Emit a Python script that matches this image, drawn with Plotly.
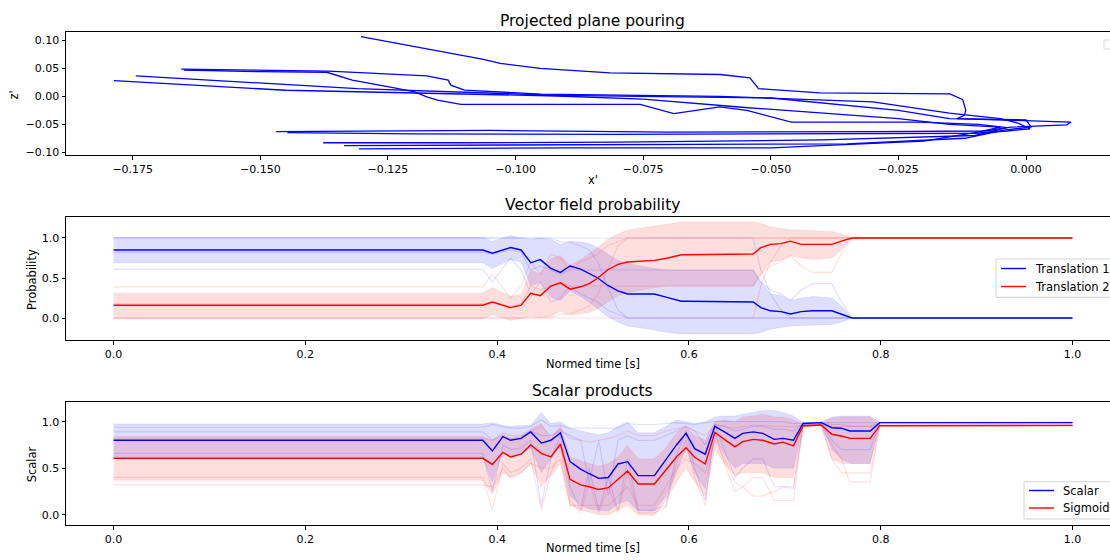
import plotly.graph_objects as go

W, H = 1110, 560
FONT = "DejaVu Sans"

# ---------------- Top chart: projected plane pouring ----------------
traj1_x = [-0.1303, -0.1063, -0.1030, -0.0952, -0.0815, -0.0599, -0.0541, -0.0524, -0.0404, -0.0149, -0.0124, -0.0118, -0.0121, -0.0135, 0.0088, 0.0080, -0.0030, -0.0080, -0.0300, -0.0700, -0.1050, -0.1300, -0.1469]
traj1_z = [0.1067, 0.066, 0.0588, 0.050, 0.042, 0.039, 0.033, 0.0138, 0.006, 0.0045, -0.006, -0.025, -0.034, -0.040, -0.046, -0.051, -0.055, -0.062, -0.063, -0.064, -0.061, -0.062, -0.063]
traj2_x = [-0.1655, -0.1366, -0.1174, -0.1132, -0.1127, -0.1100, -0.0950, -0.0600, -0.0300, -0.0150, -0.0050, -0.0016, 0.0008, -0.0037, -0.0100, -0.0400, -0.0800, -0.1200, -0.1447]
traj2_z = [0.0486, 0.045, 0.0365, 0.029, 0.020, 0.011, 0.004, 0.000, -0.010, -0.030, -0.040, -0.048, -0.058, -0.062, -0.066, -0.067, -0.068, -0.067, -0.065]
traj3_x = [-0.1650, -0.1500, -0.1370, -0.1320, -0.1240, -0.1198, -0.1174, -0.1153, -0.1107, -0.0756, -0.0690, -0.0600, -0.0547, -0.0460, -0.0208, -0.0093, -0.0037, -0.0100, -0.0400, -0.0800, -0.1100, -0.1377]
traj3_z = [0.047, 0.044, 0.043, 0.029, 0.0156, 0.0078, -0.001, -0.007, -0.0144, -0.0144, -0.031, -0.019, -0.025, -0.046, -0.046, -0.050, -0.056, -0.070, -0.078, -0.082, -0.083, -0.083]
traj4_x = [-0.1744, -0.1310, -0.0919, -0.0500, -0.0250, -0.0150, 0.0000, 0.0010, -0.0040, -0.0120, -0.0350, -0.0700, -0.1000, -0.1336]
traj4_z = [0.0365, 0.0138, 0.0018, -0.003, -0.025, -0.040, -0.042, -0.055, -0.060, -0.075, -0.085, -0.086, -0.087, -0.088]
traj5_x = [-0.1787, -0.1450, -0.0919, -0.0750, -0.0550, -0.0400, -0.0250, -0.0150, -0.0050, -0.0100, -0.0200, -0.0500, -0.0900, -0.1307]
traj5_z = [0.028, 0.0108, 0.0006, -0.005, -0.020, -0.030, -0.040, -0.050, -0.055, -0.065, -0.080, -0.092, -0.092, -0.094]

top_xticks = [-0.175, -0.150, -0.125, -0.100, -0.075, -0.050, -0.025, 0.0]
top_xticktext = ["\u22120.175", "\u22120.150", "\u22120.125", "\u22120.100", "\u22120.075", "\u22120.050", "\u22120.025", "0.000"]
top_yticks = [-0.10, -0.05, 0.0, 0.05, 0.10]
top_yticktext = ["\u22120.10", "\u22120.05", "0.00", "0.05", "0.10"]

# ---------------- Middle chart: vector field probability ----------------
t_mid = [0.0, 0.385, 0.395, 0.414, 0.425, 0.435, 0.445, 0.456, 0.466, 0.476, 0.487, 0.496, 0.505, 0.515, 0.526, 0.536, 0.564, 0.578, 0.592, 0.599, 0.667, 0.675, 0.685, 0.696, 0.706, 0.717, 0.729, 0.749, 0.759, 0.770, 1.0]
trans1_mean = [0.85, 0.85, 0.81, 0.88, 0.85, 0.69, 0.73, 0.62, 0.57, 0.65, 0.61, 0.56, 0.50, 0.41, 0.34, 0.30, 0.30, 0.255, 0.21, 0.21, 0.20, 0.13, 0.09, 0.08, 0.05, 0.08, 0.09, 0.09, 0.05, 0.00, 0.00]
trans2_mean = [0.16, 0.16, 0.20, 0.13, 0.16, 0.31, 0.28, 0.40, 0.44, 0.36, 0.39, 0.43, 0.50, 0.60, 0.67, 0.70, 0.72, 0.75, 0.79, 0.79, 0.80, 0.88, 0.92, 0.93, 0.96, 0.92, 0.92, 0.92, 0.96, 1.00, 1.00]
trans1_hi = [1.01, 1.01, 0.96, 1.03, 1.00, 0.98, 1.00, 0.98, 0.92, 0.96, 0.95, 0.93, 0.88, 0.80, 0.72, 0.68, 0.62, 0.60, 0.60, 0.60, 0.60, 0.45, 0.30, 0.28, 0.22, 0.25, 0.27, 0.25, 0.15, 0.0, 0.0]
trans1_lo = [0.69, 0.69, 0.62, 0.73, 0.70, 0.40, 0.45, 0.26, 0.22, 0.34, 0.27, 0.20, 0.12, 0.02, -0.05, -0.10, -0.15, -0.18, -0.20, -0.20, -0.20, -0.18, -0.14, -0.12, -0.10, -0.10, -0.09, -0.08, -0.05, 0.0, 0.0]
trans2_hi = [0.31, 0.31, 0.38, 0.27, 0.30, 0.60, 0.55, 0.74, 0.78, 0.66, 0.73, 0.80, 0.88, 0.98, 1.05, 1.10, 1.15, 1.18, 1.20, 1.20, 1.20, 1.18, 1.14, 1.12, 1.10, 1.10, 1.09, 1.08, 1.05, 1.0, 1.0]
trans2_lo = [-0.01, -0.01, 0.04, -0.03, 0.0, 0.02, 0.0, 0.02, 0.08, 0.04, 0.05, 0.07, 0.12, 0.20, 0.28, 0.32, 0.38, 0.40, 0.40, 0.40, 0.40, 0.55, 0.70, 0.72, 0.78, 0.75, 0.73, 0.75, 0.85, 1.0, 1.0]
trans1_run1 = [1.0, 1.0, 1.0, 1.0, 1.0, 1.0, 1.0, 1.0, 0.95, 0.95, 0.90, 0.85, 0.70, 0.40, 0.10, 0.0, 0.0, 0.0, 0.0, 0.0, 0.0, 0.0, 0.0, 0.0, 0.0, 0.0, 0.0, 0.0, 0.0, 0.0, 0.0]
trans1_run2 = [1.0, 1.0, 1.0, 1.0, 1.0, 1.0, 1.0, 1.0, 1.0, 1.0, 1.0, 1.0, 1.0, 1.0, 1.0, 1.0, 1.0, 1.0, 1.0, 1.0, 1.0, 0.60, 0.30, 0.10, 0.0, 0.0, 0.0, 0.0, 0.0, 0.0, 0.0]
trans1_run3 = [0.61, 0.61, 0.45, 0.75, 0.60, 0.30, 0.45, 0.20, 0.25, 0.40, 0.30, 0.25, 0.20, 0.10, 0.05, 0.0, 0.0, 0.0, 0.0, 0.0, 0.0, 0.0, 0.0, 0.0, 0.0, 0.0, 0.0, 0.0, 0.0, 0.0, 0.0]
trans1_run4 = [0.82, 0.82, 0.80, 0.85, 0.82, 0.60, 0.65, 0.60, 0.55, 0.60, 0.60, 0.60, 0.60, 0.60, 0.60, 0.60, 0.60, 0.60, 0.60, 0.60, 0.60, 0.45, 0.35, 0.30, 0.22, 0.35, 0.43, 0.43, 0.20, 0.0, 0.0]
trans2_run1 = [0.0, 0.0, 0.0, 0.0, 0.0, 0.0, 0.0, 0.0, 0.05, 0.05, 0.10, 0.15, 0.30, 0.60, 0.90, 1.0, 1.0, 1.0, 1.0, 1.0, 1.0, 1.0, 1.0, 1.0, 1.0, 1.0, 1.0, 1.0, 1.0, 1.0, 1.0]
trans2_run2 = [0.0, 0.0, 0.0, 0.0, 0.0, 0.0, 0.0, 0.0, 0.0, 0.0, 0.0, 0.0, 0.0, 0.0, 0.0, 0.0, 0.0, 0.0, 0.0, 0.0, 0.0, 0.40, 0.70, 0.90, 1.0, 1.0, 1.0, 1.0, 1.0, 1.0, 1.0]
trans2_run3 = [0.39, 0.39, 0.55, 0.25, 0.40, 0.70, 0.55, 0.80, 0.75, 0.60, 0.70, 0.75, 0.80, 0.90, 0.95, 1.0, 1.0, 1.0, 1.0, 1.0, 1.0, 1.0, 1.0, 1.0, 1.0, 1.0, 1.0, 1.0, 1.0, 1.0, 1.0]
trans2_run4 = [0.18, 0.18, 0.20, 0.15, 0.18, 0.40, 0.35, 0.40, 0.45, 0.40, 0.40, 0.40, 0.40, 0.40, 0.40, 0.40, 0.40, 0.40, 0.40, 0.40, 0.40, 0.55, 0.65, 0.70, 0.78, 0.65, 0.57, 0.57, 0.80, 1.0, 1.0]

# ---------------- Bottom chart: scalar products ----------------
t_bot = [0.0, 0.385, 0.395, 0.406, 0.414, 0.425, 0.435, 0.446, 0.456, 0.466, 0.476, 0.487, 0.496, 0.506, 0.516, 0.526, 0.536, 0.547, 0.564, 0.576, 0.587, 0.597, 0.606, 0.617, 0.627, 0.637, 0.648, 0.656, 0.667, 0.677, 0.689, 0.698, 0.709, 0.719, 0.738, 0.749, 0.759, 0.768, 0.789, 0.799, 1.0]
scalar_mean = [0.80, 0.80, 0.685, 0.84, 0.80, 0.82, 0.89, 0.77, 0.80, 0.88, 0.57, 0.49, 0.44, 0.39, 0.40, 0.545, 0.57, 0.42, 0.42, 0.59, 0.75, 0.875, 0.71, 0.65, 0.95, 0.89, 0.82, 0.875, 0.89, 0.875, 0.81, 0.82, 0.80, 0.98, 0.99, 0.935, 0.93, 0.90, 0.90, 0.99, 0.99]
sigmoid_mean = [0.606, 0.606, 0.54, 0.67, 0.62, 0.65, 0.75, 0.66, 0.62, 0.76, 0.38, 0.32, 0.30, 0.27, 0.29, 0.38, 0.47, 0.33, 0.33, 0.48, 0.62, 0.72, 0.617, 0.545, 0.886, 0.81, 0.73, 0.785, 0.81, 0.80, 0.76, 0.78, 0.74, 0.957, 0.965, 0.865, 0.846, 0.82, 0.82, 0.957, 0.96]
scalar_hi = [0.975, 0.975, 0.99, 0.96, 0.95, 0.96, 0.96, 1.10, 0.98, 1.0, 0.93, 0.90, 0.88, 0.86, 0.88, 0.95, 1.0, 0.88, 0.88, 0.95, 1.02, 1.0, 0.98, 1.0, 1.05, 1.06, 1.06, 1.08, 1.10, 1.12, 1.12, 1.10, 1.06, 0.99, 1.0, 1.05, 1.06, 1.06, 1.06, 0.995, 0.995]
scalar_lo = [0.62, 0.62, 0.35, 0.68, 0.62, 0.65, 0.72, 0.45, 0.60, 0.74, 0.20, 0.10, 0.06, 0.05, 0.04, 0.12, 0.15, 0.04, 0.04, 0.20, 0.45, 0.72, 0.45, 0.28, 0.82, 0.65, 0.50, 0.55, 0.55, 0.55, 0.50, 0.50, 0.50, 0.96, 0.97, 0.70, 0.60, 0.55, 0.55, 0.985, 0.985]
sigmoid_hi = [0.84, 0.84, 0.80, 0.86, 0.82, 0.84, 0.92, 0.98, 0.82, 0.95, 0.62, 0.58, 0.55, 0.52, 0.55, 0.62, 0.75, 0.60, 0.60, 0.72, 0.88, 0.95, 0.85, 0.80, 1.0, 1.02, 1.0, 1.05, 1.06, 1.08, 1.05, 1.05, 1.02, 0.97, 0.975, 1.04, 1.05, 1.05, 1.05, 0.965, 0.965]
sigmoid_lo = [0.37, 0.37, 0.22, 0.45, 0.40, 0.45, 0.55, 0.30, 0.42, 0.55, 0.10, 0.05, 0.03, 0.00, 0.00, 0.05, 0.10, 0.00, -0.01, 0.15, 0.35, 0.50, 0.35, 0.20, 0.70, 0.55, 0.42, 0.45, 0.45, 0.45, 0.40, 0.40, 0.40, 0.94, 0.955, 0.60, 0.55, 0.55, 0.55, 0.95, 0.95]
scalar_run1 = [0.94, 0.94, 0.97, 0.95, 0.93, 0.93, 0.95, 1.02, 0.95, 0.96, 0.93, 0.93, 0.93, 0.93, 0.93, 0.93, 0.98, 0.97, 0.97, 0.98, 0.99, 0.98, 0.97, 0.99, 1.00, 1.00, 1.00, 1.00, 1.00, 1.00, 1.00, 1.00, 0.98, 0.99, 0.99, 0.99, 0.99, 0.99, 0.99, 0.995, 0.995]
scalar_run2 = [0.66, 0.66, 0.25, 0.75, 0.70, 0.72, 0.80, 0.10, 0.60, 0.85, 0.30, 0.05, 0.50, 0.05, 0.40, 0.05, 0.60, 0.05, 0.05, 0.10, 0.65, 0.90, 0.50, 0.15, 0.97, 0.70, 0.40, 0.50, 0.60, 0.60, 0.30, 0.30, 0.30, 0.97, 0.98, 0.80, 0.70, 0.70, 0.70, 0.99, 0.99]
scalar_run3 = [0.89, 0.89, 0.80, 0.88, 0.85, 0.85, 0.90, 0.85, 0.85, 0.90, 0.85, 0.80, 0.35, 0.80, 0.20, 0.80, 0.85, 0.80, 0.80, 0.85, 0.90, 0.95, 0.90, 0.75, 0.97, 0.95, 0.90, 0.92, 0.95, 0.95, 0.92, 0.92, 0.90, 0.98, 0.99, 0.97, 0.97, 0.95, 0.95, 0.99, 0.99]
sigmoid_run1 = [0.40, 0.40, 0.05, 0.55, 0.45, 0.50, 0.60, 0.05, 0.45, 0.70, 0.15, 0.02, 0.35, 0.02, 0.30, 0.02, 0.45, 0.02, 0.02, 0.08, 0.55, 0.80, 0.40, 0.10, 0.90, 0.55, 0.25, 0.30, 0.40, 0.40, 0.15, 0.15, 0.15, 0.95, 0.96, 0.60, 0.45, 0.45, 0.45, 0.96, 0.96]
sigmoid_run2 = [0.32, 0.32, 0.30, 0.50, 0.40, 0.45, 0.55, 0.50, 0.50, 0.60, 0.10, 0.10, 0.10, 0.10, 0.10, 0.20, 0.30, 0.10, 0.10, 0.30, 0.50, 0.60, 0.55, 0.45, 0.80, 0.60, 0.35, 0.30, 0.20, 0.20, 0.25, 0.30, 0.28, 0.95, 0.96, 0.75, 0.60, 0.35, 0.35, 0.96, 0.96]
sigmoid_run3 = [0.82, 0.82, 0.80, 0.85, 0.82, 0.83, 0.90, 0.95, 0.85, 0.92, 0.82, 0.80, 0.78, 0.80, 0.82, 0.85, 0.90, 0.85, 0.85, 0.90, 0.93, 0.95, 0.90, 0.85, 0.96, 0.95, 0.93, 0.95, 0.96, 0.96, 0.95, 0.95, 0.95, 0.96, 0.965, 0.95, 0.95, 0.95, 0.95, 0.96, 0.96]

time_ticks = [0.0, 0.2, 0.4, 0.6, 0.8, 1.0]
time_ticktext = ["0.0", "0.2", "0.4", "0.6", "0.8", "1.0"]
prob_ticks = [0.0, 0.5, 1.0]
prob_ticktext = ["0.0", "0.5", "1.0"]

mid_legend_labels = ["Translation 1", "Translation 2"]
bot_legend_labels = ["Scalar", "Sigmoid"]

BLUE = "#0000ff"
RED = "#ff0000"
BLUE_FILL = "rgba(0,0,255,0.13)"
RED_FILL = "rgba(255,0,0,0.13)"
BLUE_FAINT = "rgba(0,0,255,0.12)"
RED_FAINT = "rgba(255,0,0,0.12)"

fig = go.Figure()

for tx, tz in [(traj1_x, traj1_z), (traj2_x, traj2_z), (traj3_x, traj3_z), (traj4_x, traj4_z), (traj5_x, traj5_z)]:
    fig.add_trace(go.Scatter(x=tx, y=tz, mode="lines", line=dict(color=BLUE, width=1.3),
                             showlegend=False, xaxis="x", yaxis="y", hoverinfo="skip"))


def band(t, hi, lo, color, xa, ya):
    fig.add_trace(go.Scatter(x=list(t) + list(t)[::-1], y=list(hi) + list(lo)[::-1], mode="lines",
                             fill="toself", fillcolor=color, line=dict(width=0.6, color=color),
                             showlegend=False, xaxis=xa, yaxis=ya, hoverinfo="skip"))


def faint(t, y, color, xa, ya):
    fig.add_trace(go.Scatter(x=t, y=y, mode="lines", line=dict(color=color, width=1.2),
                             showlegend=False, xaxis=xa, yaxis=ya, hoverinfo="skip"))


band(t_mid, trans1_hi, trans1_lo, BLUE_FILL, "x2", "y2")
band(t_mid, trans2_hi, trans2_lo, RED_FILL, "x2", "y2")
for r in [trans1_run1, trans1_run2, trans1_run3, trans1_run4]:
    faint(t_mid, r, BLUE_FAINT, "x2", "y2")
for r in [trans2_run1, trans2_run2, trans2_run3, trans2_run4]:
    faint(t_mid, r, RED_FAINT, "x2", "y2")
fig.add_trace(go.Scatter(x=t_mid, y=trans1_mean, mode="lines", name=mid_legend_labels[0], showlegend=False,
                         line=dict(color=BLUE, width=1.4), xaxis="x2", yaxis="y2"))
fig.add_trace(go.Scatter(x=t_mid, y=trans2_mean, mode="lines", name=mid_legend_labels[1], showlegend=False,
                         line=dict(color=RED, width=1.4), xaxis="x2", yaxis="y2"))

band(t_bot, scalar_hi, scalar_lo, BLUE_FILL, "x3", "y3")
band(t_bot, sigmoid_hi, sigmoid_lo, RED_FILL, "x3", "y3")
for r in [scalar_run1, scalar_run2, scalar_run3]:
    faint(t_bot, r, BLUE_FAINT, "x3", "y3")
for r in [sigmoid_run1, sigmoid_run2, sigmoid_run3]:
    faint(t_bot, r, RED_FAINT, "x3", "y3")
fig.add_trace(go.Scatter(x=t_bot, y=scalar_mean, mode="lines", name=bot_legend_labels[0], showlegend=False,
                         line=dict(color=BLUE, width=1.4), xaxis="x3", yaxis="y3"))
fig.add_trace(go.Scatter(x=t_bot, y=sigmoid_mean, mode="lines", name=bot_legend_labels[1], showlegend=False,
                         line=dict(color=RED, width=1.4), xaxis="x3", yaxis="y3"))

X0 = 66.4 / W
tick_font = dict(family=FONT, size=11, color="black")
common_x = dict(domain=[X0, 1.0], showline=True, mirror=True, linecolor="black", linewidth=0.8,
                ticks="outside", ticklen=4, tickwidth=0.8, tickcolor="black", showgrid=False,
                zeroline=False, tickfont=tick_font, automargin=False)
common_y = dict(showline=True, mirror=False, linecolor="black", linewidth=0.8,
                ticks="outside", ticklen=4, tickwidth=0.8, tickcolor="black", showgrid=False,
                zeroline=False, tickfont=tick_font, automargin=False)

fig.update_layout(
    width=W, height=H, margin=dict(l=0, r=0, t=0, b=0),
    paper_bgcolor="white", plot_bgcolor="white", showlegend=False,
    font=dict(family=FONT, size=12, color="black"),
    xaxis=dict(common_x, range=[-0.188, 0.01645], tickvals=top_xticks, ticktext=top_xticktext, anchor="y"),
    yaxis=dict(common_y, domain=[1 - 155 / H, 1 - 31.7 / H], range=[-0.1049, 0.1155],
               tickvals=top_yticks, ticktext=top_yticktext, anchor="x"),
    xaxis2=dict(common_x, range=[-0.0492, 1.0391], tickvals=time_ticks, ticktext=time_ticktext, anchor="y2"),
    yaxis2=dict(common_y, domain=[1 - 339.7 / H, 1 - 216.7 / H], range=[-0.271, 1.266],
                tickvals=prob_ticks, ticktext=prob_ticktext, anchor="x2"),
    xaxis3=dict(common_x, range=[-0.0492, 1.0391], tickvals=time_ticks, ticktext=time_ticktext, anchor="y3"),
    yaxis3=dict(common_y, domain=[1 - 524.7 / H, 1 - 401.7 / H], range=[-0.108, 1.215],
                tickvals=prob_ticks, ticktext=prob_ticktext, anchor="x3"),
)

CX = 592.5 / W
ann = []
for text, py in [("Projected plane pouring", 20.7), ("Vector field probability", 205.5), ("Scalar products", 390.5)]:
    ann.append(dict(text=text, x=CX, y=1 - py / H, xref="paper", yref="paper", showarrow=False,
                    xanchor="center", yanchor="middle", font=dict(family=FONT, size=15.5, color="black")))
for text, py in [("x'", 180), ("Normed time [s]", 364.3), ("Normed time [s]", 548.3)]:
    ann.append(dict(text=text, x=CX, y=1 - py / H, xref="paper", yref="paper", showarrow=False,
                    xanchor="center", yanchor="middle", font=dict(family=FONT, size=11.5, color="black")))
for text, py, pxx in [("z'", 95, 13.5), ("Probability", 280, 32), ("Scalar", 464.3, 32)]:
    ann.append(dict(text=text, x=pxx / W, y=1 - py / H, xref="paper", yref="paper", showarrow=False,
                    textangle=-90, xanchor="center", yanchor="middle",
                    font=dict(family=FONT, size=11.5, color="black")))

shapes = []
# empty legend box of the top panel (cut by the right edge)
shapes.append(dict(type="rect", xref="paper", yref="paper", x0=1104 / W, x1=1116 / W,
                   y0=1 - 49 / H, y1=1 - 40 / H, line=dict(color="#d8d8d8", width=1), fillcolor="white"))


def legend_box(x_left, y_top, y_bot, line_x0, line_x1, text_x, rows, labels, colors):
    shapes.append(dict(type="rect", xref="paper", yref="paper", x0=x_left / W, x1=1116 / W,
                       y0=1 - y_bot / H, y1=1 - y_top / H, line=dict(color="#d5d5d5", width=1),
                       fillcolor="rgba(255,255,255,0.85)", layer="above"))
    for ry, lab, col in zip(rows, labels, colors):
        shapes.append(dict(type="line", xref="paper", yref="paper", x0=line_x0 / W, x1=line_x1 / W,
                           y0=1 - ry / H, y1=1 - ry / H, line=dict(color=col, width=1.4), layer="above"))
        ann.append(dict(text=lab, x=text_x / W, y=1 - ry / H, xref="paper", yref="paper", showarrow=False,
                        xanchor="left", yanchor="middle", font=dict(family=FONT, size=11.5, color="black")))


legend_box(996, 259, 297.3, 1001, 1026, 1033, [268.5, 286.5], mid_legend_labels, [BLUE, RED])
legend_box(1024, 481.7, 519, 1029, 1054, 1061, [490.5, 508], bot_legend_labels, [BLUE, RED])

fig.update_layout(annotations=ann, shapes=shapes)

fig.write_html("out.html")
